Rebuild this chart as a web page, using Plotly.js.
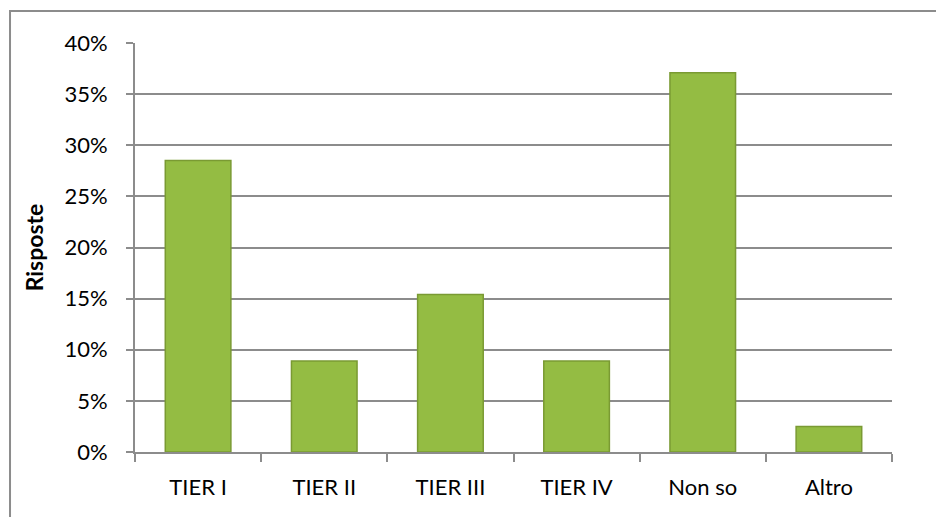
<!DOCTYPE html>
<html>
<head>
<meta charset="utf-8">
<script src="https://cdn.plot.ly/plotly-3.0.1.min.js"></script>
<style>html,body{margin:0;padding:0;background:#fff;}#chart{width:936px;height:517px;}</style>
</head>
<body>
<div id="chart"></div>
<script>
const categories = ["TIER I", "TIER II", "TIER III", "TIER IV", "Non so", "Altro"];
const values = [0.285, 0.089, 0.154, 0.089, 0.371, 0.025];
const yTitle = "Risposte";

const font = "Lato, 'Open Sans', sans-serif";
const trace = {
  type: "bar",
  x: categories,
  y: values,
  marker: { color: "#94BC43", line: { color: "#7A9A33", width: 1.5 } },
  hoverinfo: "x+y"
};
const layout = {
  width: 936, height: 517,
  margin: { l: 135, r: 44, t: 43, b: 65 },
  paper_bgcolor: "#fff", plot_bgcolor: "#fff",
  bargap: 0.48,
  showlegend: false,
  font: { family: font, size: 22, color: "#000" },
  xaxis: {
    type: "category",
    showline: true, linecolor: "#8c8c8c", linewidth: 2,
    ticks: "outside", ticklen: 8, tickwidth: 2, tickcolor: "#8c8c8c",
    tickson: "boundaries",
    showgrid: false,
    ticklabelstandoff: 15,
    tickfont: { family: font, size: 22, color: "#000" }
  },
  yaxis: {
    range: [0, 0.4], dtick: 0.05, tickformat: ".0%",
    showline: true, linecolor: "#8c8c8c", linewidth: 2,
    ticks: "outside", ticklen: 7, tickwidth: 2, tickcolor: "#8c8c8c",
    showgrid: true, gridcolor: "#8c8c8c", gridwidth: 2,
    zeroline: false,
    ticklabelstandoff: 14,
    tickfont: { family: font, size: 22, color: "#000" },
    title: { text: yTitle, font: { family: font, size: 23, color: "#000", weight: "bold" }, standoff: 14 }
  },
  shapes: [{
    type: "rect", xref: "paper", yref: "paper",
    x0: -0.1651, x1: 1.07, y0: -0.2, y1: 1.0782,
    line: { color: "#8c8c8c", width: 2 }, fillcolor: "rgba(0,0,0,0)", layer: "below"
  }]
};
Plotly.newPlot("chart", [trace], layout, { displayModeBar: false, staticPlot: true });
</script>
</body>
</html>
